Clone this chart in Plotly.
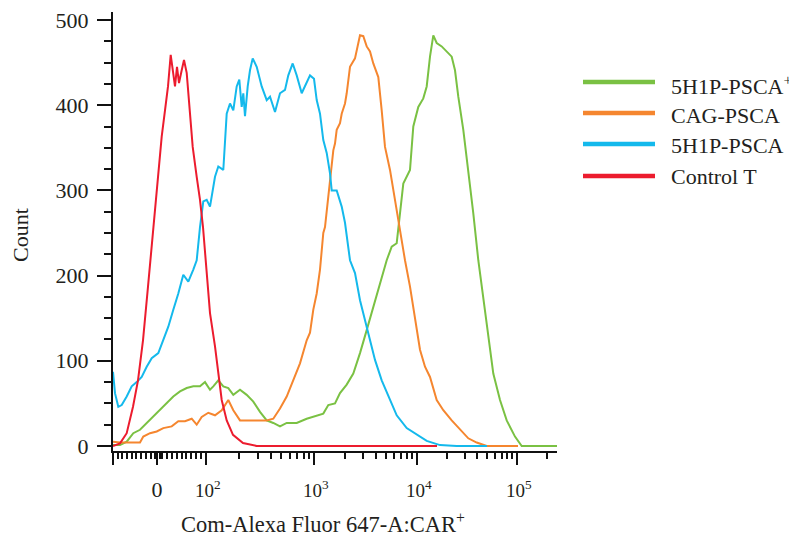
import numpy as np
import plotly.graph_objects as go

# ---------------- data (x in display channels of the biexponential axis, y = count) ----------------
green_name = "5H1P-PSCA<sup>+</sup>"
green_x = [0, 7, 13.7, 20.3, 27, 33.7, 40.3, 47, 53.7, 60.3, 67, 73.7, 80.3, 87, 92, 97, 100.3, 105.3,
           110.3, 115.3, 120.3, 127, 133.7, 140.3, 147, 153.7, 160.3, 167, 173.7, 183.7, 193.7, 203.7,
           210.3, 215.3, 222, 227, 233.7, 240.3, 247, 253.7, 260.3, 267, 273.7, 278.7, 283.7, 287,
           290.3, 297, 300.3, 305.3, 310.3, 313.7, 317, 320.3, 323.7, 328.7, 333.7, 338.7, 342,
           345.3, 350.3, 355.3, 360.3, 365.3, 370.3, 375.3, 380.3, 387, 393.7, 402, 408.7, 444]
green_y = [1, 1, 5, 15, 19, 27, 34, 42, 50, 58, 64, 68, 70, 70, 75, 66, 70, 77,
           70, 68, 60, 66, 60, 52, 40, 30, 27, 23, 27, 27, 32, 36,
           38, 48, 50, 62, 72, 85, 109, 136, 163, 191, 218, 234, 238, 273,
           308, 324, 375, 398, 408, 422, 457, 482, 473, 469, 463, 457, 441,
           410, 371, 324, 273, 218, 175, 132, 85, 54, 30, 11, 0, 0]

orange_name = "CAG-PSCA"
orange_x = [0, 7, 27, 30.3, 37, 43.7, 50.3, 58.7, 65.3, 72, 78.7, 83.7, 88.7, 95.3, 102, 108.7, 115.3,
            120.3, 127, 153.7, 160.3, 167, 173.7, 180.3, 187, 193.7, 197, 200.3, 203.7, 207, 210.3,
            212, 217, 220.3, 222, 223.7, 227, 228.7, 232, 233.7, 237, 242, 247, 250.3, 253.7, 257,
            260.3, 265.3, 268.7, 272, 277, 282, 287, 292, 297, 302, 307, 312, 317, 323.7, 330.3,
            338.7, 347, 355.3, 363.7, 373.7, 405]
orange_y = [5, 4, 4, 11, 15, 17, 21, 23, 29, 29, 32, 25, 34, 39, 36, 42, 54,
            42, 30, 30, 32, 44, 58, 77, 97, 124, 133, 160, 179, 207, 250,
            257, 316, 347, 355, 371, 379, 390, 402, 414, 445, 455, 482, 481, 469, 463,
            449, 433, 394, 351, 324, 289, 250, 218, 187, 148, 113, 93, 81, 54, 42,
            30, 19, 9, 4, 0, 0]

blue_name = "5H1P-PSCA"
blue_x = [0, 2, 5.3, 8.7, 13.7, 18.7, 23.7, 28.7, 33.7, 38.7, 45.3, 50.3, 55.3, 60.3, 65.3, 70.3, 75.3,
          80.3, 83.7, 87, 90.3, 93.7, 97, 102, 105.3, 110.3, 113.7, 117, 120.3, 123.7, 126.3, 128.7,
          130.3, 132, 134.7, 137, 139.7, 143.7, 148.7, 153.7, 157, 162, 167, 172, 175.3, 179.7,
          183.7, 188.7, 193, 197, 201, 203.7, 207, 210.3, 213.7, 217, 218.7, 223.7, 228.7, 232,
          237, 242, 247, 252, 257, 262, 268.7, 275.3, 283.7, 293.7, 303.7, 313.7, 327, 343.7, 374]
blue_y = [87, 62, 46, 48, 58, 70, 75, 81, 93, 103, 109, 124, 140, 160, 179, 201, 193,
          207, 218, 257, 287, 289, 281, 316, 328, 324, 390, 402, 394, 422, 430, 398,
          414, 387, 422, 441, 455, 445, 422, 406, 410, 392, 414, 418, 435, 449,
          435, 414, 426, 435, 431, 406, 390, 359, 344, 320, 300, 300, 281, 262,
          218, 203, 171, 148, 124, 101, 77, 58, 36, 21, 13, 6, 1, 0, 0]

red_name = "Control T"
red_x = [0, 7, 13.7, 20, 25, 30, 35, 40, 45, 48.7, 52, 55, 57.7, 59.7, 62, 64, 66, 68.7, 71, 73.7,
         76, 79.7, 83.7, 87, 90, 93.7, 97, 102, 105, 108.7, 113.7, 120, 130, 143.7, 170, 324]
red_y = [0, 3, 15, 46, 77, 124, 187, 253, 312, 363, 394, 422, 459, 441, 422, 445, 426, 441, 453, 438,
         402, 351, 316, 289, 257, 203, 156, 117, 86, 54, 30, 13, 3.5, 0, 0, 0]

series = [
    (green_name, green_x, green_y, "#7AC143"),
    (orange_name, orange_x, orange_y, "#F5862F"),
    (blue_name, blue_x, blue_y, "#14B9EC"),
    (red_name, red_x, red_y, "#EC1C2E"),
]

# axis labels (biexponential axis: 0, then decades)
x_tick_labels = ["", '<span style="font-size:22px">0</span>', "\u200910<sup>2</sup>",
                 "\u200910<sup>3</sup>", "\u200910<sup>4</sup>", "\u200910<sup>5</sup>"]
decade_pos = {2: 93, 3: 201, 4: 304, 5: 404}  # channel of each decade on the display axis
zero_pos = 44
x_tick_vals = [0, zero_pos] + [decade_pos[d] for d in (2, 3, 4, 5)]

# minor ticks: linear region around zero + log region between decades
minor_vals = [4.5, 9, 14, 18.5, 23, 27.7, 32.5, 37.5, 41.5, 46.5]
minor_vals += [zero_pos + 4.9 * k for k in range(1, 10)]
for d in (2, 3, 4):
    a, b = decade_pos[d], decade_pos[d + 1]
    minor_vals += [a + (b - a) * np.log10(k) for k in range(2, 10)]
minor_vals += [decade_pos[5] + 100 * np.log10(2)]

# page geometry (the page body adds an offset to the figure)
W, H = 797, 537
OFFX, OFFY = 8, 8
PL, PR, PT, PB = 113, 557, 12, 451   # plot area on the page
PW, PH = PR - PL, PB - PT
L, T = PL - OFFX, PT - OFFY
R, B = W - L - PW, H - T - PH


def px2x(px):
    return (px - PL) / PW


def py2y(py):
    return (PB - py) / PH


FONT = "Liberation Serif, Times New Roman, serif"
TXT = "#231F20"

fig = go.Figure()
for name, xs, ys, col in series:
    fig.add_trace(go.Scatter(x=xs, y=ys, mode="lines", name=name,
                             line=dict(color=col, width=2), showlegend=False))

# manual legend (long line keys)
legend_rows = [(82, 85), (113, 115), (144, 145), (176, 177)]
shapes = []
annotations = []
for (name, xs, ys, col), (ly, ty) in zip(series, legend_rows):
    shapes.append(dict(type="line", xref="paper", yref="paper",
                       x0=px2x(583), x1=px2x(655), y0=py2y(ly), y1=py2y(ly),
                       line=dict(color=col, width=4.5)))
    annotations.append(dict(xref="paper", yref="paper", x=px2x(669), y=py2y(ty),
                            xanchor="left", yanchor="middle", text=name, showarrow=False,
                            font=dict(family=FONT, size=22, color=TXT)))

annotations.append(dict(xref="paper", yref="paper", x=px2x(323), y=py2y(523),
                        xanchor="center", yanchor="middle",
                        text="Com-Alexa Fluor 647-A:CAR<sup>+</sup>", showarrow=False,
                        font=dict(family=FONT, size=22.5, color=TXT)))
annotations.append(dict(xref="paper", yref="paper", x=px2x(20), y=py2y(235),
                        xanchor="center", yanchor="middle", textangle=-90,
                        text="Count", showarrow=False,
                        font=dict(family=FONT, size=22, color=TXT)))

fig.update_layout(
    width=W, height=H,
    margin=dict(l=L, r=R, t=T, b=B, pad=0, autoexpand=False),
    paper_bgcolor="white", plot_bgcolor="white",
    showlegend=False,
    shapes=shapes, annotations=annotations,
    font=dict(family=FONT, color=TXT),
)
fig.update_xaxes(
    range=[0, PW], showgrid=False, zeroline=False, automargin=False,
    showline=True, linecolor="#111", linewidth=2,
    tickmode="array", tickvals=x_tick_vals, ticktext=x_tick_labels,
    ticks="outside", ticklen=12, tickwidth=2, tickcolor="#111",
    ticklabelstandoff=9, ticklabeloverflow="allow",
    tickfont=dict(family=FONT, size=19, color=TXT),
    minor=dict(tickmode="array", tickvals=minor_vals, ticks="outside", ticklen=6,
               tickwidth=1.5, tickcolor="#111"),
)
fig.update_yaxes(
    range=[-5.9, 509.4], showgrid=False, zeroline=False, automargin=False,
    showline=True, linecolor="#111", linewidth=2,
    tickmode="linear", tick0=0, dtick=100,
    ticks="outside", ticklen=14, tickwidth=2, tickcolor="#111",
    ticklabelstandoff=4, ticklabeloverflow="allow",
    tickfont=dict(family=FONT, size=22, color=TXT),
    minor=dict(tick0=0, dtick=25, ticks="outside", ticklen=7, tickwidth=2, tickcolor="#111"),
)

fig.write_html("out.html")
